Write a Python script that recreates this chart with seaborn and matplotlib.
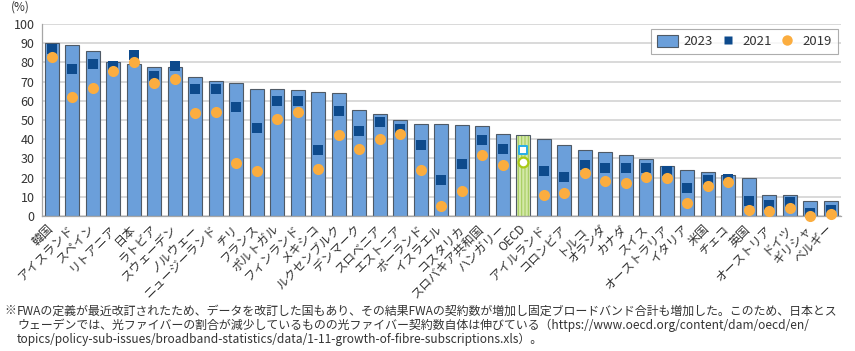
import numpy as np
import pandas as pd
import matplotlib
matplotlib.use("Agg")
import matplotlib.pyplot as plt
import seaborn as sns
from matplotlib.patches import Patch, Rectangle
from matplotlib.lines import Line2D
from matplotlib.ticker import FixedLocator

countries = ["韓国", "アイスランド", "スペイン", "リトアニア", "日本", "ラトビア", "スウェーデン",
             "ノルウェー", "ニュージーランド", "チリ", "フランス", "ポルトガル", "フィンランド",
             "メキシコ", "ルクセンブルク", "デンマーク", "スロベニア", "エストニア", "ポーランド",
             "イスラエル", "コスタリカ", "スロバキア共和国", "ハンガリー", "OECD", "アイルランド",
             "コロンビア", "トルコ", "オランダ", "カナダ", "スイス", "オーストラリア", "イタリア",
             "米国", "チェコ", "英国", "オーストリア", "ドイツ", "ギリシャ", "ベルギー"]
v2023 = [89.9, 88.9, 85.9, 80.0, 79.2, 77.6, 77.6, 72.4, 70.3, 69.4, 66.3, 66.1, 65.8,
         64.6, 64.2, 55.4, 53.3, 49.8, 47.9, 47.9, 47.4, 46.9, 42.9, 42.2, 40.3,
         36.8, 34.2, 33.5, 31.6, 29.7, 26.2, 24.1, 22.9, 21.5, 19.6, 10.9, 10.9, 7.8, 7.6]
v2021 = [86.8, 76.6, 79.2, 78.0, 83.9, 72.9, 78.3, 66.0, 66.1, 56.9, 45.8, 60.0, 60.0,
         34.2, 54.8, 44.1, 49.0, 45.5, 37.0, 18.6, 27.1, 39.4, 34.9, 34.4, 23.6,
         20.3, 26.6, 24.8, 24.8, 25.2, 23.4, 14.4, 18.7, 19.1, 7.6, 5.7, 7.1, 1.4, 3.1]
v2019 = [83.0, 62.0, 66.8, 75.5, 80.0, 69.4, 71.2, 53.8, 54.0, 27.8, 23.6, 50.5, 54.3,
         24.3, 42.2, 35.1, 40.3, 42.5, 24.1, 5.2, 12.8, 31.9, 26.4, 28.0, 10.9,
         12.1, 22.4, 18.4, 17.3, 20.3, 19.6, 6.9, 15.6, 17.7, 3.3, 2.8, 4.0, 0.0, 0.9]
series_labels = ["2023", "2021", "2019"]
yticks = list(range(0, 101, 10))
unit_label = "(%)"
note_mark = "※"
note_lines = [
    "FWAの定義が最近改訂されたため、データを改訂した国もあり、その結果FWAの契約数が増加し固定ブロードバンド合計も増加した。このため、日本とス",
    "ウェーデンでは、光ファイバーの割合が減少しているものの光ファイバー契約数自体は伸びている（https://www.oecd.org/content/dam/oecd/en/",
    "topics/policy-sub-issues/broadband-statistics/data/1-11-growth-of-fibre-subscriptions.xls）。",
]

sns.set_style("white")
plt.rcParams['font.family'] = ['Noto Sans CJK JP', 'DejaVu Sans']
plt.rcParams['hatch.linewidth'] = 0.8

BAR = '#6b9fda'
EDGE = '#4f5a66'
SQ = '#0d4a8c'
CIR = '#fbad3f'
GRID = '#d3d3d3'
TXT = '#333333'
OECD_FILL = '#d4e8a8'
OECD_STRIPE = '#a5cc5e'

n = len(countries)
df = pd.DataFrame({'country': countries, 'pos': np.arange(n),
                   'v2023': v2023, 'v2021': v2021, 'v2019': v2019})

fig = plt.figure(figsize=(8.55, 3.51), dpi=100)
ax = fig.add_axes([41.5 / 855, 1 - 216 / 351, 799.5 / 855, 192 / 351])

pal = {c: BAR for c in countries}
pal['OECD'] = OECD_FILL
sns.barplot(data=df, x='country', y='v2023', hue='country', palette=pal,
            order=countries, hue_order=countries, legend=False, width=0.68,
            edgecolor=EDGE, linewidth=0.8, saturation=1, ax=ax, zorder=2)

i_oecd = countries.index('OECD')
p = ax.patches[i_oecd]
p.set_edgecolor(OECD_STRIPE)
p.set_linewidth(0)
p.set_hatch('|||||')
ax.add_patch(Rectangle((p.get_x(), p.get_y()), p.get_width(), p.get_height(),
                       fill=False, edgecolor=EDGE, lw=0.8, zorder=2.1))

main = df[df.country != 'OECD']
oecd = df[df.country == 'OECD']
sns.scatterplot(data=main, x='pos', y='v2021', marker='s', color=SQ, s=46,
                linewidth=0, ax=ax, zorder=3, clip_on=False, legend=False)
sns.scatterplot(data=main, x='pos', y='v2019', marker='o', color=CIR, s=64,
                linewidth=0, ax=ax, zorder=4, clip_on=False, legend=False)
sns.scatterplot(data=oecd, x='pos', y='v2021', marker='s', facecolor='white',
                edgecolor='#27aee8', s=36, linewidth=1.4, ax=ax, zorder=3,
                clip_on=False, legend=False)
sns.scatterplot(data=oecd, x='pos', y='v2019', marker='o', facecolor='white',
                edgecolor='#a9c914', s=50, linewidth=1.6, ax=ax, zorder=4,
                clip_on=False, legend=False)

ax.set_xlim(-0.5, n - 0.5)
ax.set_ylim(0, 100)
ax.set_xlabel('')
ax.set_ylabel('')
ax.set_yticks(yticks)
ax.set_yticklabels([str(t) for t in yticks])
ax.yaxis.grid(True, color=GRID, lw=1.2, zorder=0)
ax.xaxis.grid(False)
ax.set_axisbelow(True)
ax.tick_params(axis='y', length=0, pad=5, labelsize=9, labelcolor=TXT)

ax.set_xticks(np.arange(n))
ax.set_xticklabels(countries, rotation=45, ha='right', va='center',
                   rotation_mode='anchor', fontsize=8.7, color=TXT)
ax.tick_params(axis='x', which='major', length=0, pad=8)
ax.xaxis.set_minor_locator(FixedLocator(np.arange(-0.5, n, 1)))
ax.tick_params(axis='x', which='minor', length=3, color='#9a9a9a', width=0.8)

for s in ['top', 'right']:
    ax.spines[s].set_visible(False)
for s in ['left', 'bottom']:
    ax.spines[s].set_color('#a6a6a6')
    ax.spines[s].set_linewidth(0.9)

handles = [
    Patch(facecolor=BAR, edgecolor=EDGE, lw=0.8, label=series_labels[0]),
    Line2D([], [], marker='s', ls='none', color=SQ, markersize=6, mec='none', label=series_labels[1]),
    Line2D([], [], marker='o', ls='none', color=CIR, markersize=7.5, mec='none', label=series_labels[2]),
]
leg = ax.legend(handles=handles, ncol=3, loc='upper right', bbox_to_anchor=(0.996, 0.974),
                frameon=True, fancybox=False, edgecolor='#999999', fontsize=9.5,
                handlelength=1.6, handleheight=1.0, columnspacing=0.35,
                handletextpad=0.35, borderpad=0.45, borderaxespad=0)
leg.get_frame().set_linewidth(0.8)
for t in leg.get_texts():
    t.set_color(TXT)

fig.text(20 / 855, 1 - 7 / 351, unit_label, ha='center', va='center', fontsize=8.5, color=TXT)

fig.text(4 / 855, 1 - 311 / 351, note_mark, ha='left', va='center', fontsize=8.6, color=TXT)
for k, line in enumerate(note_lines):
    fig.text(17 / 855, 1 - (311 + 14 * k) / 351, line, ha='left', va='center',
             fontsize=8.6, color=TXT)

fig.savefig('out.png', dpi=100)
